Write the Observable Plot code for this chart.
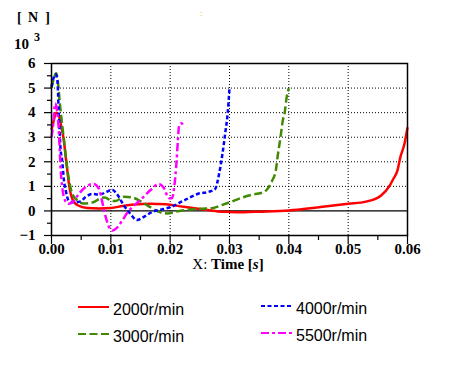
<!DOCTYPE html>
<html><head><meta charset="utf-8">
<script src="https://cdn.jsdelivr.net/npm/d3@7"></script>
<script src="https://cdn.jsdelivr.net/npm/@observablehq/plot@0.6"></script>
<style>body{margin:0;background:#fff} #chart{width:458px;height:370px}</style>
</head><body><div id="chart"></div>
<script>
// Time [s] and force [10^3 N] for each speed
const t2000 = [0, 0.0004, 0.0008, 0.0012, 0.0016, 0.002, 0.0025, 0.003, 0.0035, 0.0045, 0.006, 0.008, 0.01, 0.012, 0.014, 0.0167, 0.018, 0.02, 0.022, 0.025, 0.028, 0.03, 0.0325, 0.035, 0.04, 0.045, 0.05, 0.053, 0.0555, 0.057, 0.0576, 0.0583, 0.0588, 0.0595, 0.06];
const v2000 = [3.3, 3.7, 4.0, 3.9, 3.5, 3.0, 2.0, 1.0, 0.5, 0.22, 0.12, 0.1, 0.12, 0.2, 0.26, 0.29, 0.28, 0.25, 0.18, 0.08, -0.02, -0.04, -0.05, -0.03, 0.02, 0.15, 0.29, 0.38, 0.62, 1.03, 1.3, 1.64, 2.19, 2.74, 3.4];

const t3000 = [0, 0.0004, 0.0008, 0.0011, 0.0014, 0.0018, 0.0021, 0.0025, 0.003, 0.0035, 0.0044, 0.0054, 0.007, 0.0083, 0.009, 0.01, 0.0108, 0.0122, 0.0136, 0.0153, 0.0167, 0.018, 0.0195, 0.021, 0.0225, 0.025, 0.0273, 0.0285, 0.03, 0.032, 0.034, 0.0357, 0.0366, 0.0372, 0.0378, 0.0381, 0.0386, 0.039, 0.0393, 0.0396, 0.04];
const v3000 = [5.0, 5.4, 5.6, 5.2, 4.4, 3.5, 2.9, 2.0, 1.2, 0.7, 0.42, 0.3, 0.35, 0.52, 0.55, 0.42, 0.4, 0.58, 0.55, 0.35, 0.15, -0.03, -0.1, -0.03, 0.03, 0.09, 0.12, 0.22, 0.35, 0.53, 0.67, 0.76, 0.96, 1.24, 1.64, 2.2, 3.0, 3.7, 4.0, 4.57, 5.0];

const t4000 = [0, 0.0004, 0.0007, 0.001, 0.0011, 0.0012, 0.00135, 0.0015, 0.0018, 0.0021, 0.0024, 0.0029, 0.0038, 0.0049, 0.0057, 0.0069, 0.008, 0.0094, 0.0102, 0.011, 0.0122, 0.0133, 0.0144, 0.0155, 0.0172, 0.0184, 0.02, 0.0223, 0.0246, 0.0268, 0.0276, 0.0282, 0.0288, 0.0293, 0.0297, 0.03];
const v4000 = [5.05, 5.45, 5.56, 5.3, 4.8, 4.1, 3.4, 2.6, 2.05, 1.24, 0.83, 0.42, 0.35, 0.39, 0.56, 0.69, 0.66, 0.79, 0.86, 0.7, 0.22, -0.12, -0.37, -0.25, -0.02, 0.05, 0.15, 0.42, 0.69, 0.8, 0.9, 1.45, 2.3, 3.2, 4.0, 5.0];

const t5500 = [0, 0.0003, 0.0006, 0.0009, 0.0012, 0.0014, 0.0016, 0.0019, 0.0023, 0.0029, 0.0038, 0.0046, 0.0057, 0.0071, 0.008, 0.0085, 0.009, 0.0096, 0.0103, 0.011, 0.0119, 0.0128, 0.0136, 0.015, 0.0167, 0.0181, 0.0189, 0.0198, 0.0203, 0.0207, 0.0211, 0.0213, 0.0215, 0.0219, 0.0222];
const v5500 = [3.0, 3.55, 4.37, 4.16, 3.4, 2.4, 1.5, 0.8, 0.42, 0.29, 0.42, 0.69, 0.96, 1.1, 0.9, 0.42, -0.12, -0.6, -0.8, -0.69, -0.4, -0.06, 0.15, 0.45, 0.85, 1.1, 0.95, 0.52, 0.52, 1.0, 2.1, 2.87, 3.45, 3.57, 3.48];

const names = ["2000r/min", "3000r/min", "4000r/min", "5500r/min"];
const colors = ["#ff0000", "#3f8a00", "#0000ff", "#ff00ff"];
const dashes = [null, "8,3.5", "4,2.5", "8,3,3,3"];
const xTicks = [0, 0.01, 0.02, 0.03, 0.04, 0.05, 0.06];
const xMinor = [0.005, 0.015, 0.025, 0.035, 0.045, 0.055];
const yTicks = [-1, 0, 1, 2, 3, 4, 5, 6];
const yMinor = [-0.5, 0.5, 1.5, 2.5, 3.5, 4.5, 5.5];

const ts = [t2000, t3000, t4000, t5500];
const vs = [v2000, v3000, v4000, v5500];
const data = names.map((n, k) => ts[k].map((t, i) => ({t, v: vs[k][i], name: n})));

const serif = "'Liberation Serif', 'Times New Roman', serif";
const lineMarks = data.map((d, k) => Plot.line(d, {x: "t", y: "v", stroke: colors[k], strokeWidth: 2.5, strokeDasharray: dashes[k], strokeLinecap: "butt", strokeLinejoin: "miter", curve: "monotone-x"}));

const plot = Plot.plot({
  width: 458, height: 370,
  marginLeft: 51, marginRight: 51, marginTop: 63, marginBottom: 135,
  style: {fontFamily: serif, background: "#fff", color: "#000"},
  x: {domain: [0, 0.06], label: null},
  y: {domain: [-1, 6], label: null},
  marks: [
    Plot.gridX(xTicks.slice(1, -1), {stroke: "#000", strokeOpacity: 1, strokeDasharray: "1,2", strokeWidth: 1}),
    Plot.gridY(yTicks.slice(2, -1), {stroke: "#000", strokeOpacity: 1, strokeDasharray: "1,2", strokeWidth: 1}),
    Plot.ruleY([0], {stroke: "#000", strokeWidth: 1.3}),
    ...lineMarks,
    Plot.frame({stroke: "#000", strokeWidth: 1.5}),
    Plot.axisX(xTicks, {tickSize: 9, text: null, strokeWidth: 1.2, label: null}),
    Plot.axisX(xMinor, {tickSize: 5, text: null, strokeWidth: 1.2, label: null}),
    Plot.axisX(xTicks, {tickSize: 0, tickPadding: 8, tickFormat: d3.format(".2f"), fontSize: 15, fontWeight: "bold", fontFamily: serif, label: null}),
    Plot.axisY(yTicks, {tickSize: 7, text: null, strokeWidth: 1.2, label: null}),
    Plot.axisY(yMinor, {tickSize: 4, text: null, strokeWidth: 1.2, label: null}),
    Plot.axisY(yTicks, {tickSize: 0, tickPadding: 16, tickFormat: d3.format("d"), fontSize: 15, fontWeight: "bold", fontFamily: serif, label: null})
  ]
});
document.getElementById("chart").appendChild(plot);

const svg = d3.select(plot);
const addText = (x, y, txt, opts = {}) => svg.append("text").attr("x", x).attr("y", y)
  .attr("font-family", opts.family || serif).attr("font-size", opts.size || 14)
  .attr("font-weight", opts.weight || "bold").attr("fill", opts.fill || "#000")
  .attr("text-anchor", opts.anchor || "start").text(txt);

addText(17, 22, "[");
addText(33, 22, "N", {anchor: "middle"});
addText(50, 22, "]", {anchor: "end"});
addText(14, 49, "10", {size: 15});
addText(34, 41, "3", {size: 12});
addText(200, 16, ":", {size: 9, weight: "normal", fill: "#f5a030"});

const xl = svg.append("text").attr("x", 228).attr("y", 269).attr("text-anchor", "middle")
  .attr("font-family", serif).attr("font-size", 15).attr("font-weight", "bold");
xl.append("tspan").attr("font-weight", "normal").text("X: ");
xl.append("tspan").text("Time [");
xl.append("tspan").attr("font-style", "italic").text("s");
xl.append("tspan").text("]");

const legPos = [[78, 307], [78, 334], [261, 306], [261, 333]];
names.forEach((n, k) => {
  const [x, y] = legPos[k];
  svg.append("line").attr("x1", x).attr("x2", x + 31).attr("y1", y).attr("y2", y)
    .attr("stroke", colors[k]).attr("stroke-width", 2).attr("stroke-dasharray", dashes[k]);
  addText(x + 35, y + 8, n, {family: "'Liberation Sans', Arial, sans-serif", size: 16, weight: "normal"});
});
</script></body></html>
